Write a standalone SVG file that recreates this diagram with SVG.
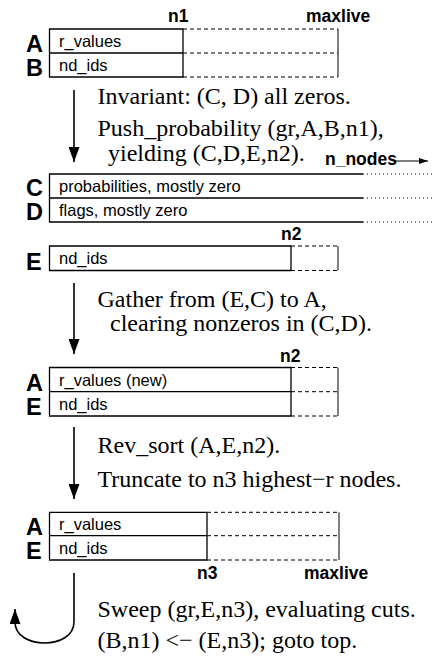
<svg xmlns="http://www.w3.org/2000/svg" width="432" height="662" viewBox="0 0 432 662">
  <style>
    .bg { fill: #ffffff; }
    .solid { fill: none; stroke: #000; stroke-width: 1.3; }
    .dash { fill: none; stroke: #000; stroke-width: 1; stroke-dasharray: 4 3; }
    .dot { fill: none; stroke: #000; stroke-width: 1; stroke-dasharray: 1 3; }
    .edge { fill: none; stroke: #000; stroke-width: 1; }
    .lbl { font-family: "Liberation Sans", Arial, Helvetica, sans-serif; font-weight: bold; font-size: 23.5px; fill: #000; }
    .mark { font-family: "Liberation Sans", Arial, Helvetica, sans-serif; font-weight: bold; font-size: 17.5px; fill: #000; }
    .cell { font-family: "Liberation Sans", Arial, Helvetica, sans-serif; font-size: 16.5px; fill: #000; }
    .step { font-family: "Liberation Serif", "Times New Roman", serif; font-size: 24px; fill: #000; }
    .conn { fill: none; stroke: #000; stroke-width: 1.6; }
  </style>
  <defs>
    <marker id="head" markerUnits="userSpaceOnUse" markerWidth="15" markerHeight="11" refX="15" refY="5.5" orient="auto">
      <path d="M0,0 L15,5.5 L0,11 z" fill="#000"/>
    </marker>
    <marker id="headSmall" markerUnits="userSpaceOnUse" markerWidth="9" markerHeight="6" refX="9" refY="3" orient="auto">
      <path d="M0,0 L9,3 L0,6 z" fill="#000"/>
    </marker>
  </defs>

  <rect class="bg" x="0" y="0" width="432" height="662"/>

  <!-- arrays A (r_values) and B (nd_ids), live length n1 of maxlive -->
  <g id="block-ab">
    <text class="mark" x="168" y="22">n1</text>
    <text class="mark" x="306" y="22">maxlive</text>
    <path class="dash" d="M183,29 H338 M183,53 H338 M183,77 H338"/>
    <path class="edge" d="M338,29 V77"/>
    <path class="solid" d="M49.5,29 H183 V77 H49.5 Z M49.5,53 H183"/>
    <text class="lbl" x="26" y="52">A</text>
    <text class="lbl" x="26" y="76">B</text>
    <text class="cell" x="59" y="47">r_values</text>
    <text class="cell" x="59" y="71">nd_ids</text>
  </g>

  <g id="step-push">
    <text class="step" x="97.5" y="104">Invariant: (C, D) all zeros.</text>
    <text class="step" x="97.5" y="136">Push_probability (gr,A,B,n1),</text>
    <text class="step" x="108" y="161">yielding (C,D,E,n2).</text>
  </g>

  <!-- arrays C and D span all n_nodes -->
  <g id="block-cd">
    <text class="mark" x="325" y="165">n_nodes</text>
    <path class="dot" d="M363,174 H432 M363,198 H432 M363,222 H432"/>
    <path class="solid" d="M363,174 H49.5 V222 H363 M49.5,198 H363"/>
    <text class="lbl" x="26" y="196">C</text>
    <text class="lbl" x="26" y="220">D</text>
    <text class="cell" x="59" y="192">probabilities, mostly zero</text>
    <text class="cell" x="59" y="216">flags, mostly zero</text>
  </g>

  <g id="block-e">
    <text class="mark" x="281" y="240">n2</text>
    <path class="dash" d="M291,246 H338 M291,270.5 H338"/>
    <path class="edge" d="M338,246 V270.5"/>
    <path class="solid" d="M49.5,246 H291 V270.5 H49.5 Z"/>
    <text class="lbl" x="26" y="270">E</text>
    <text class="cell" x="59" y="264">nd_ids</text>
  </g>

  <g id="step-gather">
    <text class="step" x="97.5" y="307">Gather from (E,C) to A,</text>
    <text class="step" x="110" y="331">clearing nonzeros in (C,D).</text>
  </g>

  <g id="block-ae-new">
    <text class="mark" x="280" y="361.5">n2</text>
    <path class="dash" d="M291,367.5 H338 M291,391.7 H338 M291,416 H338"/>
    <path class="edge" d="M338,367.5 V416"/>
    <path class="solid" d="M49.5,367.5 H291 V416 H49.5 Z M49.5,391.7 H291"/>
    <text class="lbl" x="26" y="391">A</text>
    <text class="lbl" x="26" y="415">E</text>
    <text class="cell" x="59" y="385.5">r_values (new)</text>
    <text class="cell" x="59" y="410">nd_ids</text>
  </g>

  <g id="step-sort">
    <text class="step" x="97.5" y="453">Rev_sort (A,E,n2).</text>
    <text class="step" x="97.5" y="487">Truncate to n3 highest−r nodes.</text>
  </g>

  <g id="block-ae-top">
    <path class="dash" d="M207,512.3 H339 M207,535.7 H339 M207,560 H339"/>
    <path class="edge" d="M339,512.3 V560"/>
    <path class="solid" d="M49.5,512.3 H207 V560 H49.5 Z M49.5,535.7 H207"/>
    <text class="lbl" x="26" y="535">A</text>
    <text class="lbl" x="26" y="559">E</text>
    <text class="cell" x="59" y="530">r_values</text>
    <text class="cell" x="59" y="554">nd_ids</text>
    <text class="mark" x="197" y="579">n3</text>
    <text class="mark" x="304" y="579">maxlive</text>
  </g>

  <g id="step-sweep">
    <text class="step" x="97.5" y="617">Sweep (gr,E,n3), evaluating cuts.</text>
    <text class="step" x="97.5" y="648">(B,n1) &lt;− (E,n3); goto top.</text>
  </g>

  <g id="connectors">
    <path class="conn" d="M74,90 V162" marker-end="url(#head)"/>
    <path class="conn" d="M74,283 V354" marker-end="url(#head)"/>
    <path class="conn" d="M74,427 V499" marker-end="url(#head)"/>
    <path class="conn" d="M74,573 V622 C74,650 15,650 15,622 L15,609" marker-end="url(#head)"/>
    <path class="edge" d="M393,161 H428" marker-end="url(#headSmall)"/>
  </g>
</svg>
